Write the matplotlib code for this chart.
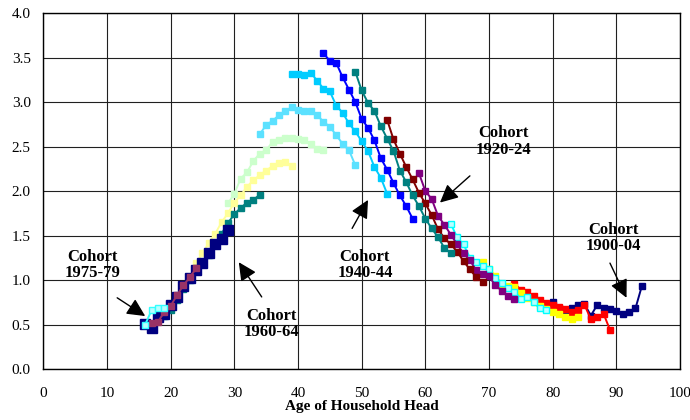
import matplotlib
matplotlib.use("Agg")
import matplotlib.pyplot as plt
import numpy as np

plt.rcParams["font.family"] = ["Liberation Serif", "DejaVu Serif"]

# cohort values, one point per year of age, oldest cohort first
start_1900, v_1900 = 80, [0.75, 0.68, 0.66, 0.68, 0.72, 0.73, 0.60, 0.72, 0.69, 0.67, 0.65, 0.62, 0.64, 0.68, 0.93]
start_1905, v_1905 = 74, [0.96, 0.89, 0.86, 0.82, 0.77, 0.74, 0.72, 0.70, 0.67, 0.64, 0.66, 0.72, 0.56, 0.58, 0.62, 0.44]
start_1910, v_1910 = 69, [1.20, 1.12, 1.05, 0.96, 0.93, 0.92, 0.85, 0.80, 0.75, 0.71, 0.67, 0.64, 0.62, 0.59, 0.56, 0.58]
start_1915, v_1915 = 64, [1.63, 1.48, 1.40, 1.25, 1.20, 1.16, 1.12, 1.02, 0.97, 0.91, 0.87, 0.79, 0.81, 0.75, 0.68, 0.66]
start_1920, v_1920 = 59, [2.20, 2.00, 1.91, 1.72, 1.62, 1.51, 1.40, 1.30, 1.22, 1.11, 1.07, 1.04, 0.94, 0.88, 0.82, 0.79]
start_1925, v_1925 = 54, [2.80, 2.58, 2.42, 2.27, 2.13, 1.98, 1.86, 1.73, 1.57, 1.47, 1.40, 1.32, 1.21, 1.12, 1.03, 0.98]
start_1930, v_1930 = 49, [3.34, 3.13, 2.99, 2.90, 2.73, 2.59, 2.45, 2.23, 2.10, 1.95, 1.83, 1.69, 1.58, 1.48, 1.36, 1.30]
start_1935, v_1935 = 44, [3.55, 3.46, 3.44, 3.28, 3.14, 3.00, 2.81, 2.71, 2.57, 2.37, 2.24, 2.09, 1.95, 1.83, 1.69]
start_1940, v_1940 = 39, [3.32, 3.31, 3.30, 3.33, 3.24, 3.15, 3.12, 2.96, 2.88, 2.76, 2.67, 2.56, 2.45, 2.27, 2.15, 1.97]
start_1945, v_1945 = 34, [2.64, 2.74, 2.79, 2.85, 2.90, 2.94, 2.91, 2.90, 2.90, 2.85, 2.78, 2.72, 2.63, 2.53, 2.46, 2.29]
start_1950, v_1950 = 29, [1.86, 1.97, 2.14, 2.21, 2.34, 2.42, 2.46, 2.55, 2.57, 2.60, 2.60, 2.59, 2.57, 2.53, 2.47, 2.46]
start_1955, v_1955 = 24, [1.19, 1.30, 1.42, 1.52, 1.65, 1.75, 1.87, 1.95, 2.05, 2.12, 2.18, 2.23, 2.28, 2.31, 2.33, 2.28]
start_1960, v_1960 = 19, [0.60, 0.66, 0.78, 0.90, 1.00, 1.10, 1.19, 1.28, 1.40, 1.52, 1.64, 1.74, 1.81, 1.87, 1.90, 1.96]
start_1965, v_1965 = 16, [0.51, 0.46, 0.59, 0.62, 0.72, 0.81, 0.93, 1.02, 1.11, 1.19, 1.30, 1.40, 1.46, 1.56]
start_1970, v_1970 = 17, [0.52, 0.53, 0.64, 0.71, 0.83, 0.94, 1.03, 1.13]
start_1975, v_1975 = 16, [0.50, 0.66, 0.69, 0.69]

series = [
    (start_1900, v_1900, "#000080", "#000080", 5),
    (start_1905, v_1905, "#FF0000", "#FF0000", 5),
    (start_1910, v_1910, "#FFFF00", "#FFFF00", 5),
    (start_1915, v_1915, "#00FFFF", "#B8FFFF", 5),
    (start_1920, v_1920, "#800080", "#800080", 5),
    (start_1925, v_1925, "#800000", "#800000", 5),
    (start_1930, v_1930, "#008080", "#008080", 5),
    (start_1935, v_1935, "#0000FF", "#0000FF", 5),
    (start_1940, v_1940, "#00CCFF", "#00CCFF", 5),
    (start_1945, v_1945, "#5CE1FF", "#5CE1FF", 5),
    (start_1950, v_1950, "#CCFFCC", "#CCFFCC", 5),
    (start_1955, v_1955, "#FFFF99", "#FFFF99", 5),
    (start_1960, v_1960, "#008080", "#008080", 5),
    (start_1965, v_1965, "#000080", "#000080", 7),
    (start_1970, v_1970, "#993366", "#993366", 5),
    (start_1975, v_1975, "#33FFFF", "#B8FFFF", 5),
]

fig = plt.figure(figsize=(6.9, 4.2), dpi=100)
ax = fig.add_axes([0.0628, 0.1214, 0.9227, 0.8476])

for start, vals, col, face, ms in series:
    ages = np.arange(start, start + len(vals))
    ax.plot(ages, vals, color=col, lw=1.4, marker="s", ms=ms,
            mfc=face, mec=col, mew=1.0, zorder=3)

ax.set_xlim(0, 100)
ax.set_ylim(0, 4.0)
ax.set_xticks(np.arange(0, 101, 10))
ax.set_yticks(np.arange(0, 4.01, 0.5))
ax.set_yticklabels([f"{t:.1f}" for t in np.arange(0, 4.01, 0.5)])
ax.tick_params(length=0, labelsize=11)
ax.tick_params(axis="x", pad=13)
ax.tick_params(axis="y", pad=9)
ax.grid(True, color="#202020", lw=0.8, zorder=0)
ax.set_axisbelow(True)
for s in ax.spines.values():
    s.set_color("black")
    s.set_linewidth(1.0)
ax.set_xlabel("Age of Household Head", fontsize=11, fontweight="bold", labelpad=0)

labels = [
    ("Cohort\n1975-79", (7.7, 1.17), (11.6, 0.80), (16.0, 0.595)),
    ("Cohort\n1960-64", (35.9, 0.505), (34.3, 0.81), (30.7, 1.20)),
    ("Cohort\n1940-44", (50.5, 1.17), (48.5, 1.58), (51.0, 1.90)),
    ("Cohort\n1920-24", (72.3, 2.556), (67.0, 2.17), (62.3, 1.87)),
    ("Cohort\n1900-04", (89.6, 1.47), (89.0, 1.19), (91.6, 0.80)),
]
for txt, pos, tail, head in labels:
    ax.text(pos[0], pos[1], txt, ha="center", va="center", fontsize=12,
            fontweight="bold", linespacing=1.05, zorder=5)
    ax.annotate("", xy=head, xytext=tail,
                arrowprops=dict(arrowstyle="-|>,head_length=0.55,head_width=0.27",
                                color="black", lw=1.0, mutation_scale=20,
                                shrinkA=0, shrinkB=0), zorder=5)

fig.savefig("out.png", dpi=100)
